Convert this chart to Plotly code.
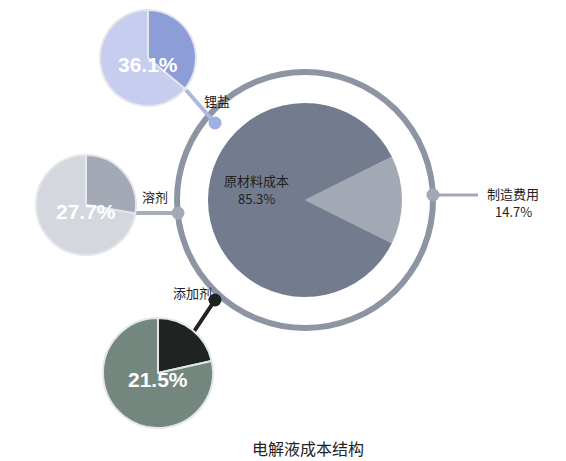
import plotly.graph_objects as go

# data
main_labels = ["制造费用", "原材料成本"]
main_values = [14.7, 85.3]
items = ["锂盐", "溶剂", "添加剂"]
shares = [36.1, 27.7, 21.5]
title = "电解液成本结构"

W, H = 566, 461
CJK = "Noto Sans CJK SC"

# pixel layout for the infographic
main_c, main_r, ring_r = (297, 192), 97, 128
small = [  # center, radius, slice color, rest color, link color, dot pos, label pos, edge pos
    dict(c=(140, 50), r=48, col="#8d9dd8", rest="#c6cdee", link="#aeb8df", dot=(207, 115), lab=(209, 92), edge=(178, 82)),
    dict(c=(78, 197), r=50, col="#a4aab5", rest="#d4d7de", link="#a8aeb8", dot=(170, 205), lab=(147, 188), edge=(128, 205)),
    dict(c=(150, 365), r=55, col="#1f2422", rest="#74877f", link="#1f2422", dot=(207, 292), lab=(184, 284), edge=(185, 325)),
]


def dom(cx, cy, r):
    return dict(x=[(cx - r) / W, (cx + r) / W], y=[1 - (cy + r) / H, 1 - (cy - r) / H])


fig = go.Figure()

fig.add_trace(go.Pie(
    labels=main_labels, values=main_values, sort=False, direction="clockwise",
    rotation=90 - main_values[0] / 100 * 180,
    marker=dict(colors=["#a3a9b4", "#737c8e"], line=dict(width=0)),
    textinfo="none", hoverinfo="label+percent", showlegend=False,
    domain=dom(main_c[0], main_c[1], main_r),
))

for name, v, s in zip(items, shares, small):
    fig.add_trace(go.Pie(
        labels=[name, "其他"], values=[v, 100 - v], sort=False, direction="clockwise", rotation=0,
        marker=dict(colors=[s["col"], s["rest"]], line=dict(color="#e4e6ec", width=2)),
        textinfo="none", showlegend=False,
        domain=dom(s["c"][0], s["c"][1], s["r"]),
    ))

# dots on the ring
fig.add_trace(go.Scatter(
    x=[s["dot"][0] for s in small] + [425], y=[s["dot"][1] for s in small] + [187],
    mode="markers", hoverinfo="skip", showlegend=False,
    marker=dict(size=13, color=["#9fb0e4", "#a4aab5", "#1f2422", "#a3a9b4"], line=dict(width=0)),
))

shapes = [dict(type="circle", xref="x", yref="y", layer="below",
               x0=main_c[0] - ring_r, x1=main_c[0] + ring_r, y0=main_c[1] - ring_r, y1=main_c[1] + ring_r,
               line=dict(color="#8d95a2", width=6))]
for s in small:
    shapes.append(dict(type="line", xref="x", yref="y", layer="below",
                       x0=s["edge"][0], y0=s["edge"][1], x1=s["dot"][0], y1=s["dot"][1],
                       line=dict(color=s["link"], width=4)))
shapes.append(dict(type="line", xref="x", yref="y", layer="below", x0=425, y0=187, x1=470, y1=187,
                   line=dict(color="#a3a9b4", width=3)))

dark = dict(size=13, color="#222", family=CJK)
ann = [
    dict(x=248, y=172, text=main_labels[1], font=dark),
    dict(x=248, y=190, text=f"{main_values[1]}%", font=dark),
    dict(x=505, y=185, text=main_labels[0], font=dark),
    dict(x=505, y=203, text=f"{main_values[0]}%", font=dark),
    dict(x=300, y=440, text=title, font=dict(size=16, color="#222", family=CJK)),
]
for name, v, s in zip(items, shares, small):
    ann.append(dict(x=s["lab"][0], y=s["lab"][1], text=name, font=dark))
    ann.append(dict(x=s["c"][0], y=s["c"][1] + 6, text=f"<b>{v}%</b>",
                    font=dict(size=21, color="white", family="Liberation Sans Narrow, Arial Narrow, sans-serif")))
for a in ann:
    a.update(xref="x", yref="y", showarrow=False)

fig.update_layout(
    width=W, height=H, margin=dict(l=0, r=0, t=0, b=0),
    paper_bgcolor="white", plot_bgcolor="white",
    xaxis=dict(range=[0, W], visible=False, fixedrange=True),
    yaxis=dict(range=[H, 0], visible=False, fixedrange=True),
    shapes=shapes, annotations=ann,
)

fig.write_html("out.html")
